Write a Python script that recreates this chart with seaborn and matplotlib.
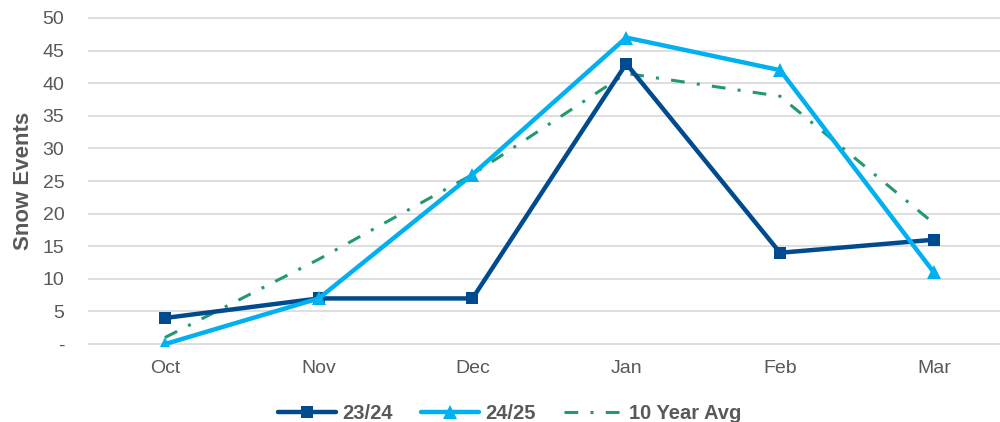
import numpy as np
import pandas as pd
import matplotlib
matplotlib.use('Agg')
import matplotlib.pyplot as plt
import seaborn as sns

# data
months = ['Oct', 'Nov', 'Dec', 'Jan', 'Feb', 'Mar']
s_2324 = [4, 7, 7, 43, 14, 16]
s_2425 = [0, 7, 26, 47, 42, 11]
avg_10yr = [1, 13, 26, 41.5, 38, 18.5]
yticks = [0, 5, 10, 15, 20, 25, 30, 35, 40, 45, 50]

sns.set_style('white')
plt.rcParams['font.family'] = ['Liberation Sans', 'DejaVu Sans']

df = pd.DataFrame({'month': months, '23/24': s_2324,
                   '24/25': s_2425, '10 Year Avg': avg_10yr})

fig = plt.figure(figsize=(10, 4.22), dpi=100)
ax = fig.add_axes([0.088, 0.18, 0.912, 0.782])

# gridlines first so lines sit on top
for y in yticks:
    ax.axhline(y, color='#D9D9D9', lw=1.2, zorder=0)

sns.lineplot(data=df, x='month', y='23/24', ax=ax, sort=False,
             color='#004B8D', lw=3.2, marker='s', markersize=9,
             markeredgewidth=0, label='23/24', zorder=3)
sns.lineplot(data=df, x='month', y='24/25', ax=ax, sort=False,
             color='#00B0F0', lw=3.2, marker='^', markersize=10,
             markeredgewidth=0, label='24/25', zorder=4)
sns.lineplot(data=df, x='month', y='10 Year Avg', ax=ax, sort=False,
             color='#22996F', lw=2.2, label='10 Year Avg', zorder=2)
ax.lines[-1].set_dashes([4.5, 4, 1, 4])

ax.set_xlim(-0.5, 5.43)
ax.set_ylim(-0.3, 50.3)
ax.set_yticks(yticks)
ax.set_yticklabels(['-'] + [str(v) for v in yticks[1:]])
ax.set_xlabel('')
ax.set_ylabel('Snow Events', fontsize=16, fontweight='bold', color='#595959', labelpad=6)
ax.tick_params(axis='both', labelsize=14, labelcolor='#595959', length=0)
ax.tick_params(axis='y', pad=17)
ax.tick_params(axis='x', pad=10)
for sp in ax.spines.values():
    sp.set_visible(False)

leg = ax.legend(loc='upper center', bbox_to_anchor=(0.462, -0.12), ncol=3,
                frameon=False, handlelength=2.9, handletextpad=0.3,
                columnspacing=1.4, prop={'weight': 'bold', 'size': 14.5})
for t in leg.get_texts():
    t.set_color('#595959')

fig.savefig('out.png', dpi=100)
